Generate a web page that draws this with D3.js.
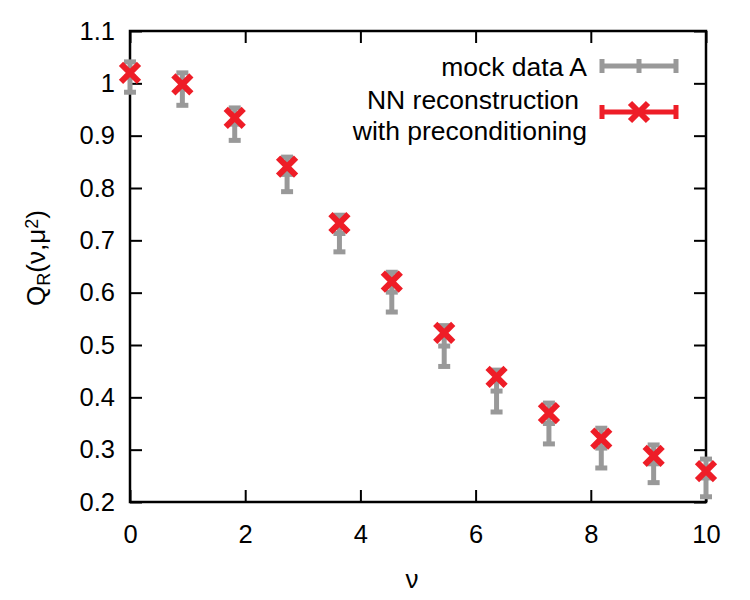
<!DOCTYPE html>
<html>
<head>
<meta charset="utf-8">
<script src="https://cdn.jsdelivr.net/npm/d3@7"></script>
<style>
  body { margin: 0; background: #fff; }
  text { font-family: "Liberation Sans", Arial, sans-serif; fill: #000; }
</style>
</head>
<body>
<svg width="750" height="600"></svg>
<script>
// nu values: 12 points evenly spaced from 0 to 10
var nu = [0, 0.909, 1.818, 2.727, 3.636, 4.545, 5.455, 6.364, 7.273, 8.182, 9.091, 10];
var mockVal = [1.012, 0.989, 0.922, 0.826, 0.713, 0.601, 0.498, 0.412, 0.350, 0.303, 0.273, 0.246];
var mockErr = [0.029, 0.031, 0.031, 0.033, 0.035, 0.038, 0.039, 0.040, 0.039, 0.038, 0.036, 0.036];
var nnVal = [1.020, 0.998, 0.934, 0.841, 0.733, 0.621, 0.523, 0.439, 0.370, 0.321, 0.288, 0.259];
var xTicks = [0, 2, 4, 6, 8, 10];
var yTicks = [0.2, 0.3, 0.4, 0.5, 0.6, 0.7, 0.8, 0.9, 1, 1.1];
var legendNames = ["mock data A", ["NN reconstruction", "with preconditioning"]];

var gray = "#999999", red = "#ee1d27";

var svg = d3.select("svg"),
    margin = {top: 31, right: 44, bottom: 98, left: 130},
    width = 750 - margin.left - margin.right,
    height = 600 - margin.top - margin.bottom;

var x = d3.scaleLinear().domain([0, 10]).range([0, width]),
    y = d3.scaleLinear().domain([0.2, 1.1]).range([height, 0]);

var g = svg.append("g")
    .attr("transform", "translate(" + margin.left + "," + margin.top + ")");

// tick marks on all four sides, pointing inward
var tickLen = 12;
g.append("g").attr("class", "axis")
    .attr("transform", "translate(0," + height + ")")
    .call(d3.axisBottom(x).tickValues(xTicks).tickSize(-tickLen).tickPadding(23).tickFormat(d3.format("d")));
g.append("g").attr("class", "axis")
    .call(d3.axisTop(x).tickValues(xTicks).tickSize(-tickLen).tickFormat(""));
g.append("g").attr("class", "axis")
    .call(d3.axisLeft(y).tickValues(yTicks).tickSize(-tickLen).tickPadding(15)
        .tickFormat(function (d) { return d3.format("")(+d.toFixed(1)); }));
g.append("g").attr("class", "axis")
    .attr("transform", "translate(" + width + ",0)")
    .call(d3.axisRight(y).tickValues(yTicks).tickSize(-tickLen).tickFormat(""));

g.selectAll(".axis .domain").remove();
g.selectAll(".axis line").attr("stroke", "#000").attr("stroke-width", 2);
g.selectAll(".axis text").style("font-size", "25.5px").attr("fill", "#000");

g.append("rect")
    .attr("width", width).attr("height", height)
    .attr("fill", "none").attr("stroke", "#000").attr("stroke-width", 2.5);

// axis titles
svg.append("text")
    .attr("x", margin.left + width / 2 - 6).attr("y", 588)
    .attr("text-anchor", "middle").style("font-size", "26px")
    .text("ν");

var yl = svg.append("text")
    .attr("transform", "translate(45,258) rotate(-90)")
    .attr("text-anchor", "middle").style("font-size", "26px");
yl.append("tspan").text("Q");
yl.append("tspan").attr("baseline-shift", "-25%").style("font-size", "18px").text("R");
yl.append("tspan").text("(ν,μ");
yl.append("tspan").attr("baseline-shift", "40%").style("font-size", "18px").text("2");
yl.append("tspan").text(")");

// mock data error bars
var capW = 6;
var mock = g.selectAll(".mock")
    .data(nu.map(function (d, i) { return {x: d, v: mockVal[i], e: mockErr[i]}; }))
    .enter().append("g").attr("class", "mock")
    .attr("stroke", gray).attr("stroke-width", 5).attr("fill", "none");
mock.append("line")
    .attr("x1", function (d) { return x(d.x); }).attr("x2", function (d) { return x(d.x); })
    .attr("y1", function (d) { return y(d.v - d.e); }).attr("y2", function (d) { return y(d.v + d.e); });
mock.append("line")
    .attr("x1", function (d) { return x(d.x) - capW; }).attr("x2", function (d) { return x(d.x) + capW; })
    .attr("y1", function (d) { return y(d.v - d.e); }).attr("y2", function (d) { return y(d.v - d.e); });
mock.append("line")
    .attr("x1", function (d) { return x(d.x) - capW; }).attr("x2", function (d) { return x(d.x) + capW; })
    .attr("y1", function (d) { return y(d.v + d.e); }).attr("y2", function (d) { return y(d.v + d.e); });
mock.append("line")
    .attr("x1", function (d) { return x(d.x) - capW; }).attr("x2", function (d) { return x(d.x) + capW; })
    .attr("y1", function (d) { return y(d.v); }).attr("y2", function (d) { return y(d.v); });

// NN reconstruction crosses
var cs = 9;
function crossPath(cx, cy) {
    return "M" + (cx - cs) + "," + (cy - cs) + "L" + (cx + cs) + "," + (cy + cs) +
        "M" + (cx - cs) + "," + (cy + cs) + "L" + (cx + cs) + "," + (cy - cs);
}
g.selectAll(".nn")
    .data(nu.map(function (d, i) { return {x: d, v: nnVal[i]}; }))
    .enter().append("path").attr("class", "nn")
    .attr("d", function (d) { return crossPath(x(d.x), y(d.v)); })
    .attr("stroke", red).attr("stroke-width", 6).attr("fill", "none");

// legend
var lx1 = 600, lx2 = 678, lm = 639;
var leg1 = svg.append("g").attr("stroke", gray).attr("stroke-width", 5);
leg1.append("line").attr("x1", lx1).attr("x2", lx2).attr("y1", 66).attr("y2", 66);
leg1.append("line").attr("x1", lx1 + 2).attr("x2", lx1 + 2).attr("y1", 59).attr("y2", 73);
leg1.append("line").attr("x1", lx2 - 2).attr("x2", lx2 - 2).attr("y1", 59).attr("y2", 73);
leg1.append("line").attr("x1", lm).attr("x2", lm).attr("y1", 59).attr("y2", 73);
svg.append("text").attr("x", 587).attr("y", 76).attr("text-anchor", "end")
    .style("font-size", "26.5px").text(legendNames[0]);

var leg2 = svg.append("g").attr("stroke", red).attr("stroke-width", 5);
leg2.append("line").attr("x1", lx1).attr("x2", lx2).attr("y1", 112).attr("y2", 112);
leg2.append("line").attr("x1", lx1 + 2).attr("x2", lx1 + 2).attr("y1", 105).attr("y2", 119);
leg2.append("line").attr("x1", lx2 - 2).attr("x2", lx2 - 2).attr("y1", 105).attr("y2", 119);
leg2.append("path").attr("d", crossPath(lm, 112)).attr("stroke-width", 6).attr("fill", "none");
svg.append("text").attr("x", 579).attr("y", 109).attr("text-anchor", "end")
    .style("font-size", "26.5px").text(legendNames[1][0]);
svg.append("text").attr("x", 587).attr("y", 140).attr("text-anchor", "end")
    .style("font-size", "26.5px").text(legendNames[1][1]);
</script>
</body>
</html>
